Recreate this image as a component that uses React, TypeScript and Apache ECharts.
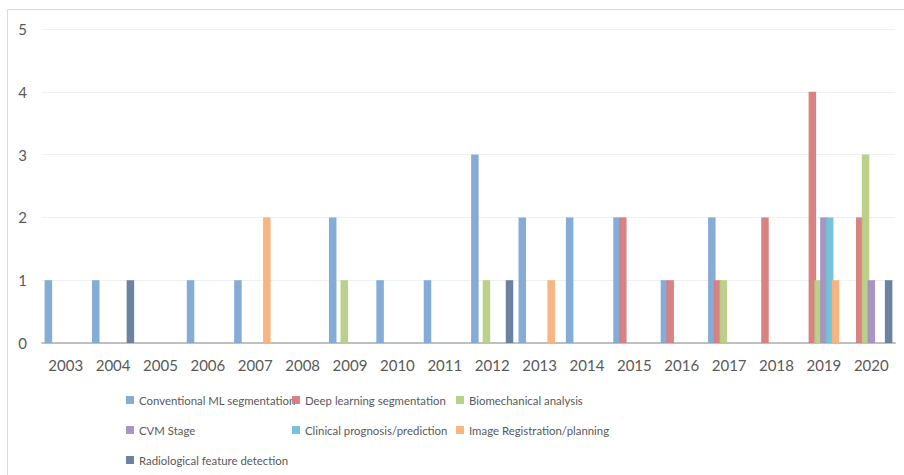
import React, { useEffect, useRef } from "react";
import * as echarts from "echarts";

const years = ["2003","2004","2005","2006","2007","2008","2009","2010","2011","2012","2013","2014","2015","2016","2017","2018","2019","2020"];
const seriesNames = [
  "Conventional ML segmentation",
  "Deep learning segmentation",
  "Biomechanical analysis",
  "CVM Stage",
  "Clinical prognosis/prediction",
  "Image Registration/planning",
  "Radiological feature detection",
];
const conventionalML = [1,1,0,1,1,0,2,1,1,3,2,2,2,1,2,0,0,0];
const deepLearning = [0,0,0,0,0,0,0,0,0,0,0,0,2,1,1,2,4,2];
const biomechanical = [0,0,0,0,0,0,1,0,0,1,0,0,0,0,1,0,1,3];
const cvmStage = [0,0,0,0,0,0,0,0,0,0,0,0,0,0,0,0,2,1];
const clinical = [0,0,0,0,0,0,0,0,0,0,0,0,0,0,0,0,2,0];
const registration = [0,0,0,0,2,0,0,0,0,0,1,0,0,0,0,0,1,0];
const radiological = [0,1,0,0,0,0,0,0,0,1,0,0,0,0,0,0,0,1];
const yTicks = [0,1,2,3,4,5];

const colors = ["#7EA6D5","#D77B7B","#B6CE85","#A38FC1","#6FC0D6","#FAB07A","#637B9C"];
const allData = [conventionalML, deepLearning, biomechanical, cvmStage, clinical, registration, radiological];

const FONT = "Lato";

export default function App() {
  const ref = useRef<HTMLDivElement>(null);
  useEffect(() => {
    if (!ref.current) return;
    const chart = echarts.init(ref.current, null, { renderer: "svg" });
    const legendText = { color: "#595959", fontSize: 11.4, fontFamily: FONT, lineHeight: 16 };
    const mkLegend = (data: string[], left: number) => ({
      orient: "vertical",
      left,
      top: 392,
      padding: 0,
      itemGap: 14,
      itemWidth: 8,
      itemHeight: 8,
      icon: "rect",
      itemStyle: { borderWidth: 0 },
      textStyle: legendText,
      data,
    });
    chart.setOption({
      animation: false,
      backgroundColor: "#ffffff",
      graphic: [
        {
          type: "rect",
          shape: { x: 7.5, y: 9.5, width: 910, height: 480 },
          style: { fill: "none", stroke: "#d9d9d9", lineWidth: 1 },
          silent: true,
        },
      ],
      legend: [
        mkLegend([seriesNames[0], seriesNames[3], seriesNames[6]], 126),
        mkLegend([seriesNames[1], seriesNames[4]], 292),
        mkLegend([seriesNames[2], seriesNames[5]], 456),
      ],
      grid: { left: 42, right: 9, top: 29, bottom: 132, containLabel: false },
      xAxis: {
        type: "category",
        data: years,
        axisLine: { lineStyle: { color: "#bfbfbf", width: 2 } },
        axisTick: { show: false },
        axisLabel: { color: "#595959", fontSize: 15, fontFamily: FONT, margin: 14 },
      },
      yAxis: {
        type: "value",
        min: yTicks[0],
        max: yTicks[yTicks.length - 1],
        interval: 1,
        axisLine: { show: false },
        axisTick: { show: false },
        splitLine: { lineStyle: { color: "#f0f0f0", width: 1 } },
        axisLabel: { color: "#595959", fontSize: 15, fontFamily: FONT, margin: 15 },
      },
      series: seriesNames.map((name, i) => ({
        name,
        type: "bar",
        data: allData[i],
        barWidth: 7.5,
        barGap: "-23%",
        itemStyle: { color: colors[i], opacity: 0.95 },
      })),
    });
    return () => chart.dispose();
  }, []);
  return (
    <div
      ref={ref}
      style={{ position: "fixed", left: 0, top: 0, width: 904, height: 475 }}
    />
  );
}
